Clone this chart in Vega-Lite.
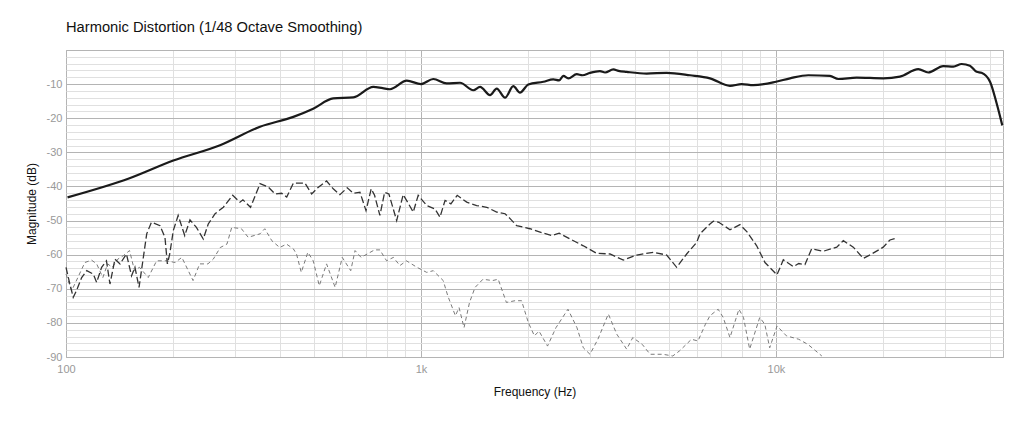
{
  "$schema": "https://vega.github.io/schema/vega-lite/v6.json",
  "width": 937,
  "height": 307,
  "autosize": {"type": "none"},
  "padding": {"left": 66, "top": 50, "right": 21, "bottom": 70},
  "background": "white",
  "config": {"font": "Liberation Sans", "view": {"stroke": "#b5b5b5", "strokeWidth": 1}},
  "title": {"text": "Harmonic Distortion (1/48 Octave Smoothing)", "anchor": "start", "frame": "group", "fontSize": 14.7, "fontWeight": "normal", "color": "#111", "offset": 9},
  "data": {"values": [
    {"s":"H1","f":101,"db":-43.2},{"s":"H1","f":151,"db":-37.6},{"s":"H1","f":200.6,"db":-32.4},{"s":"H1","f":271.6,"db":-27.9},{"s":"H1","f":352,"db":-22.5},{"s":"H1","f":437,"db":-19.6},{"s":"H1","f":497,"db":-17.2},{"s":"H1","f":566,"db":-14.2},{"s":"H1","f":645,"db":-13.9},{"s":"H1","f":734,"db":-10.8},{"s":"H1","f":780,"db":-11.2},{"s":"H1","f":818,"db":-11.5},{"s":"H1","f":912,"db":-9.0},{"s":"H1","f":1000,"db":-10.0},{"s":"H1","f":1083,"db":-8.5},{"s":"H1","f":1181,"db":-9.8},{"s":"H1","f":1288,"db":-9.6},{"s":"H1","f":1404,"db":-11.8},{"s":"H1","f":1467,"db":-10.8},{"s":"H1","f":1565,"db":-13.2},{"s":"H1","f":1634,"db":-11.3},{"s":"H1","f":1725,"db":-14.0},{"s":"H1","f":1820,"db":-10.6},{"s":"H1","f":1900,"db":-12.5},{"s":"H1","f":2006,"db":-10.1},{"s":"H1","f":2212,"db":-9.3},{"s":"H1","f":2359,"db":-8.6},{"s":"H1","f":2450,"db":-8.9},{"s":"H1","f":2518,"db":-7.6},{"s":"H1","f":2600,"db":-8.3},{"s":"H1","f":2746,"db":-7.1},{"s":"H1","f":2850,"db":-7.4},{"s":"H1","f":2992,"db":-6.7},{"s":"H1","f":3193,"db":-6.2},{"s":"H1","f":3300,"db":-6.6},{"s":"H1","f":3482,"db":-5.7},{"s":"H1","f":3600,"db":-6.1},{"s":"H1","f":3796,"db":-6.4},{"s":"H1","f":4322,"db":-6.9},{"s":"H1","f":4921,"db":-6.7},{"s":"H1","f":5725,"db":-7.4},{"s":"H1","f":6517,"db":-8.3},{"s":"H1","f":7420,"db":-10.5},{"s":"H1","f":8005,"db":-10.0},{"s":"H1","f":8630,"db":-10.3},{"s":"H1","f":10000,"db":-9.3},{"s":"H1","f":10950,"db":-8.3},{"s":"H1","f":12330,"db":-7.4},{"s":"H1","f":14190,"db":-7.6},{"s":"H1","f":14990,"db":-8.5},{"s":"H1","f":16870,"db":-8.1},{"s":"H1","f":20050,"db":-8.3},{"s":"H1","f":22350,"db":-7.8},{"s":"H1","f":25170,"db":-5.6},{"s":"H1","f":26850,"db":-6.6},{"s":"H1","f":29590,"db":-4.7},{"s":"H1","f":31600,"db":-4.9},{"s":"H1","f":33350,"db":-4.1},{"s":"H1","f":35180,"db":-4.6},{"s":"H1","f":36750,"db":-6.4},{"s":"H1","f":37930,"db":-6.7},{"s":"H1","f":40080,"db":-9.3},{"s":"H1","f":41850,"db":-15.7},{"s":"H1","f":43400,"db":-22.1},
    {"s":"H2","f":100,"db":-63.7},{"s":"H2","f":102,"db":-67.6},{"s":"H2","f":104.8,"db":-72.5},{"s":"H2","f":107,"db":-70.6},{"s":"H2","f":110.7,"db":-66.7},{"s":"H2","f":114.4,"db":-64.7},{"s":"H2","f":119.4,"db":-65.7},{"s":"H2","f":122,"db":-68.1},{"s":"H2","f":126,"db":-63.7},{"s":"H2","f":130,"db":-61.8},{"s":"H2","f":133,"db":-68.6},{"s":"H2","f":137.4,"db":-61.3},{"s":"H2","f":142,"db":-62.7},{"s":"H2","f":148,"db":-59.8},{"s":"H2","f":153,"db":-66.2},{"s":"H2","f":156.4,"db":-63.7},{"s":"H2","f":160.6,"db":-69.6},{"s":"H2","f":168.8,"db":-53.9},{"s":"H2","f":174,"db":-50.5},{"s":"H2","f":184,"db":-51.5},{"s":"H2","f":190,"db":-54.9},{"s":"H2","f":193,"db":-62.7},{"s":"H2","f":196,"db":-59.8},{"s":"H2","f":200.6,"db":-52.9},{"s":"H2","f":207,"db":-48.5},{"s":"H2","f":216,"db":-54.4},{"s":"H2","f":223.5,"db":-49.8},{"s":"H2","f":233,"db":-52.0},{"s":"H2","f":243.6,"db":-55.4},{"s":"H2","f":251.6,"db":-51.0},{"s":"H2","f":263,"db":-48.0},{"s":"H2","f":277.5,"db":-46.1},{"s":"H2","f":294.8,"db":-42.6},{"s":"H2","f":309,"db":-44.6},{"s":"H2","f":315,"db":-43.9},{"s":"H2","f":331,"db":-46.1},{"s":"H2","f":352,"db":-39.2},{"s":"H2","f":371.5,"db":-40.2},{"s":"H2","f":388,"db":-42.2},{"s":"H2","f":405,"db":-42.0},{"s":"H2","f":418.6,"db":-43.1},{"s":"H2","f":437,"db":-39.0},{"s":"H2","f":471,"db":-39.0},{"s":"H2","f":492,"db":-42.2},{"s":"H2","f":512,"db":-40.4},{"s":"H2","f":542,"db":-38.4},{"s":"H2","f":566,"db":-40.7},{"s":"H2","f":591,"db":-42.4},{"s":"H2","f":620,"db":-40.4},{"s":"H2","f":645,"db":-42.0},{"s":"H2","f":673,"db":-41.7},{"s":"H2","f":700,"db":-47.1},{"s":"H2","f":724,"db":-40.7},{"s":"H2","f":740,"db":-42.6},{"s":"H2","f":766,"db":-48.5},{"s":"H2","f":790,"db":-41.7},{"s":"H2","f":812,"db":-42.2},{"s":"H2","f":854,"db":-50.0},{"s":"H2","f":891,"db":-42.4},{"s":"H2","f":951,"db":-47.5},{"s":"H2","f":982,"db":-42.6},{"s":"H2","f":1038,"db":-45.6},{"s":"H2","f":1095,"db":-46.6},{"s":"H2","f":1131,"db":-49.0},{"s":"H2","f":1169,"db":-44.1},{"s":"H2","f":1214,"db":-45.1},{"s":"H2","f":1265,"db":-42.6},{"s":"H2","f":1345,"db":-44.6},{"s":"H2","f":1435,"db":-45.6},{"s":"H2","f":1531,"db":-46.1},{"s":"H2","f":1634,"db":-47.5},{"s":"H2","f":1725,"db":-48.0},{"s":"H2","f":1785,"db":-49.5},{"s":"H2","f":1860,"db":-51.5},{"s":"H2","f":2028,"db":-52.4},{"s":"H2","f":2212,"db":-53.7},{"s":"H2","f":2335,"db":-54.4},{"s":"H2","f":2450,"db":-53.7},{"s":"H2","f":2630,"db":-55.4},{"s":"H2","f":2866,"db":-57.4},{"s":"H2","f":3124,"db":-59.6},{"s":"H2","f":3407,"db":-59.8},{"s":"H2","f":3715,"db":-61.6},{"s":"H2","f":4053,"db":-60.1},{"s":"H2","f":4511,"db":-59.3},{"s":"H2","f":4921,"db":-60.1},{"s":"H2","f":5250,"db":-63.7},{"s":"H2","f":5603,"db":-59.8},{"s":"H2","f":5978,"db":-56.4},{"s":"H2","f":6106,"db":-53.9},{"s":"H2","f":6517,"db":-51.0},{"s":"H2","f":6661,"db":-50.2},{"s":"H2","f":6900,"db":-50.5},{"s":"H2","f":7420,"db":-52.7},{"s":"H2","f":7918,"db":-51.2},{"s":"H2","f":8300,"db":-53.4},{"s":"H2","f":8823,"db":-57.4},{"s":"H2","f":9311,"db":-62.3},{"s":"H2","f":10065,"db":-65.9},{"s":"H2","f":10486,"db":-61.5},{"s":"H2","f":11190,"db":-63.5},{"s":"H2","f":11590,"db":-62.6},{"s":"H2","f":12070,"db":-62.9},{"s":"H2","f":12604,"db":-58.3},{"s":"H2","f":13590,"db":-59.0},{"s":"H2","f":14830,"db":-57.8},{"s":"H2","f":15476,"db":-55.9},{"s":"H2","f":16510,"db":-57.8},{"s":"H2","f":17620,"db":-61.1},{"s":"H2","f":18610,"db":-59.8},{"s":"H2","f":20050,"db":-57.8},{"s":"H2","f":20940,"db":-55.7},{"s":"H2","f":21870,"db":-55.1},
    {"s":"H3","f":100,"db":-65.7},{"s":"H3","f":103.7,"db":-70.6},{"s":"H3","f":108,"db":-66.7},{"s":"H3","f":113,"db":-62.3},{"s":"H3","f":118,"db":-61.6},{"s":"H3","f":122,"db":-62.7},{"s":"H3","f":127,"db":-66.7},{"s":"H3","f":131,"db":-62.7},{"s":"H3","f":135,"db":-63.7},{"s":"H3","f":140,"db":-61.3},{"s":"H3","f":145,"db":-60.3},{"s":"H3","f":151,"db":-58.8},{"s":"H3","f":156,"db":-64.7},{"s":"H3","f":161,"db":-63.7},{"s":"H3","f":170.5,"db":-66.7},{"s":"H3","f":180,"db":-61.8},{"s":"H3","f":192,"db":-61.8},{"s":"H3","f":203,"db":-62.3},{"s":"H3","f":212,"db":-60.8},{"s":"H3","f":228,"db":-67.6},{"s":"H3","f":238,"db":-62.7},{"s":"H3","f":251,"db":-62.7},{"s":"H3","f":260,"db":-61.3},{"s":"H3","f":272,"db":-57.9},{"s":"H3","f":284,"db":-56.9},{"s":"H3","f":293,"db":-52.0},{"s":"H3","f":312,"db":-52.4},{"s":"H3","f":326,"db":-54.9},{"s":"H3","f":352,"db":-53.9},{"s":"H3","f":363,"db":-52.4},{"s":"H3","f":380,"db":-55.9},{"s":"H3","f":400,"db":-57.9},{"s":"H3","f":418,"db":-56.9},{"s":"H3","f":437,"db":-58.3},{"s":"H3","f":446,"db":-59.8},{"s":"H3","f":460,"db":-65.2},{"s":"H3","f":480,"db":-59.3},{"s":"H3","f":497,"db":-61.8},{"s":"H3","f":517,"db":-69.1},{"s":"H3","f":542,"db":-62.7},{"s":"H3","f":573,"db":-69.6},{"s":"H3","f":600,"db":-60.8},{"s":"H3","f":634,"db":-64.7},{"s":"H3","f":652,"db":-58.8},{"s":"H3","f":678,"db":-60.8},{"s":"H3","f":740,"db":-58.6},{"s":"H3","f":766,"db":-58.6},{"s":"H3","f":800,"db":-61.8},{"s":"H3","f":836,"db":-60.8},{"s":"H3","f":872,"db":-63.2},{"s":"H3","f":910,"db":-61.8},{"s":"H3","f":974,"db":-63.7},{"s":"H3","f":1038,"db":-65.2},{"s":"H3","f":1083,"db":-64.7},{"s":"H3","f":1155,"db":-67.6},{"s":"H3","f":1190,"db":-72.1},{"s":"H3","f":1250,"db":-77.9},{"s":"H3","f":1280,"db":-75.5},{"s":"H3","f":1322,"db":-81.4},{"s":"H3","f":1370,"db":-74.0},{"s":"H3","f":1420,"db":-69.6},{"s":"H3","f":1495,"db":-67.2},{"s":"H3","f":1590,"db":-67.6},{"s":"H3","f":1650,"db":-67.2},{"s":"H3","f":1740,"db":-74.0},{"s":"H3","f":1840,"db":-73.5},{"s":"H3","f":1920,"db":-73.5},{"s":"H3","f":2006,"db":-79.9},{"s":"H3","f":2087,"db":-83.8},{"s":"H3","f":2150,"db":-82.4},{"s":"H3","f":2272,"db":-86.8},{"s":"H3","f":2400,"db":-81.4},{"s":"H3","f":2594,"db":-76.0},{"s":"H3","f":2750,"db":-81.4},{"s":"H3","f":2866,"db":-87.3},{"s":"H3","f":2992,"db":-89.2},{"s":"H3","f":3150,"db":-84.8},{"s":"H3","f":3371,"db":-77.4},{"s":"H3","f":3560,"db":-83.3},{"s":"H3","f":3796,"db":-87.7},{"s":"H3","f":3950,"db":-84.3},{"s":"H3","f":4200,"db":-86.3},{"s":"H3","f":4420,"db":-89.2},{"s":"H3","f":4800,"db":-89.2},{"s":"H3","f":5120,"db":-89.7},{"s":"H3","f":5350,"db":-88.2},{"s":"H3","f":5780,"db":-84.8},{"s":"H3","f":6030,"db":-85.3},{"s":"H3","f":6327,"db":-80.4},{"s":"H3","f":6517,"db":-77.9},{"s":"H3","f":6870,"db":-76.0},{"s":"H3","f":7100,"db":-78.4},{"s":"H3","f":7420,"db":-84.3},{"s":"H3","f":7864,"db":-76.0},{"s":"H3","f":8100,"db":-78.4},{"s":"H3","f":8430,"db":-87.7},{"s":"H3","f":9000,"db":-78.4},{"s":"H3","f":9300,"db":-80.4},{"s":"H3","f":9600,"db":-87.3},{"s":"H3","f":10070,"db":-80.9},{"s":"H3","f":10700,"db":-83.8},{"s":"H3","f":11590,"db":-84.8},{"s":"H3","f":12300,"db":-86.3},{"s":"H3","f":12940,"db":-88.2},{"s":"H3","f":13460,"db":-89.7}
  ]},
  "encoding": {
    "x": {
      "field": "f", "type": "quantitative",
      "scale": {"type": "log", "domain": [100, 43600], "nice": false},
      "axis": {
        "title": "Frequency (Hz)",
        "values": [100,200,300,400,500,600,700,800,900,1000,2000,3000,4000,5000,6000,7000,8000,9000,10000,20000,30000,40000],
        "labelExpr": "datum.value == 100 ? '100' : datum.value == 1000 ? '1k' : datum.value == 10000 ? '10k' : ''",
        "grid": true,
        "gridColor": {"condition": {"test": "datum.value == 100 || datum.value == 1000 || datum.value == 10000", "value": "#b4b4b4"}, "value": "#e0e0e0"},
        "ticks": false, "domain": false,
        "labelColor": "#999", "labelFontSize": 11, "labelPadding": 6, "labelFlush": false, "labelOverlap": false,
        "titleFontSize": 12, "titleFontWeight": "normal", "titleColor": "#111", "titlePadding": 12
      }
    },
    "y": {
      "field": "db", "type": "quantitative",
      "scale": {"domain": [-90, 0], "nice": false},
      "axis": {
        "title": "Magnitude (dB)",
        "values": [-90,-88,-86,-84,-82,-80,-78,-76,-74,-72,-70,-68,-66,-64,-62,-60,-58,-56,-54,-52,-50,-48,-46,-44,-42,-40,-38,-36,-34,-32,-30,-28,-26,-24,-22,-20,-18,-16,-14,-12,-10,-8,-6,-4,-2,0],
        "labelExpr": "datum.value % 10 == 0 && datum.value < 0 ? '-' + (-datum.value) : ''",
        "grid": true,
        "gridColor": {"condition": {"test": "datum.value % 10 == 0", "value": "#b4b4b4"}, "value": "#e0e0e0"},
        "ticks": false, "domain": false,
        "labelColor": "#999", "labelFontSize": 11, "labelPadding": 4, "labelOverlap": false, "labelFlush": false,
        "titleFontSize": 12, "titleFontWeight": "normal", "titleColor": "#111", "titlePadding": 8
      }
    }
  },
  "layer": [
    {"transform": [{"filter": "datum.s == 'H3'"}], "mark": {"type": "line", "color": "#7a7a7a", "strokeWidth": 1, "strokeDash": [4, 3]}},
    {"transform": [{"filter": "datum.s == 'H2'"}], "mark": {"type": "line", "color": "#333333", "strokeWidth": 1.3, "strokeDash": [7, 3]}},
    {"transform": [{"filter": "datum.s == 'H1'"}], "mark": {"type": "line", "color": "#1a1a1a", "strokeWidth": 2.2, "interpolate": "monotone"}}
  ]
}
